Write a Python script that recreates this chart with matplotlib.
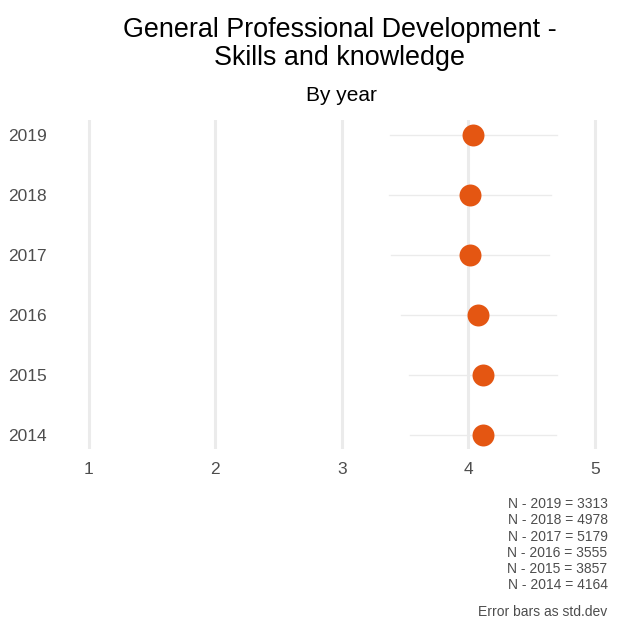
import matplotlib
matplotlib.use("Agg")
import matplotlib.pyplot as plt

plt.rcParams['font.family'] = ['Liberation Sans', 'DejaVu Sans']

# values
years = ['2014', '2015', '2016', '2017', '2018', '2019']
means = [4.115, 4.115, 4.08, 4.015, 4.01, 4.04]
sds = [0.575, 0.585, 0.61, 0.625, 0.64, 0.66]
counts = [4164, 3857, 3555, 5179, 4978, 3313]
xticks = [1, 2, 3, 4, 5]

fig = plt.figure(figsize=(6.2, 6.24), dpi=100)
ax = fig.add_axes([0.1129, 0.2804, 0.877, 0.5272])

ypos = list(range(len(years)))
for x in xticks:
    ax.axvline(x, color='#ebebeb', lw=2.2, zorder=0)
for y, m, s in zip(ypos, means, sds):
    ax.plot([m - s, m + s], [y, y], color='#ebebeb', lw=1.0, zorder=1)
ax.scatter(means, ypos, s=250, color='#e45612', zorder=3, linewidths=0)

ax.set_xlim(0.85, 5.15)
ax.set_ylim(-0.23, 5.25)
ax.set_xticks(xticks)
ax.set_xticklabels([str(x) for x in xticks])
ax.set_yticks(ypos)
ax.set_yticklabels(years)
ax.tick_params(length=0, labelsize=12.5, colors='#4d4d4d')
ax.tick_params(axis='y', pad=17)
ax.tick_params(axis='x', pad=9)
for sp in ax.spines.values():
    sp.set_visible(False)

fig.text(0.548, 0.973, 'General Professional Development -\nSkills and knowledge',
         ha='center', va='top', fontsize=19.4, linespacing=1.12)
fig.text(0.551, 0.862, 'By year', ha='center', va='top', fontsize=15)

ntext = '\n'.join('N - {} = {}'.format(yr, n) for yr, n in zip(years[::-1], counts[::-1]))
fig.text(0.98, 0.203, ntext, ha='right', va='top', fontsize=10, color='#4d4d4d', linespacing=1.19)
fig.text(0.98, 0.008, 'Error bars as std.dev', ha='right', va='bottom', fontsize=10, color='#4d4d4d')

fig.savefig('out.png', dpi=100)
